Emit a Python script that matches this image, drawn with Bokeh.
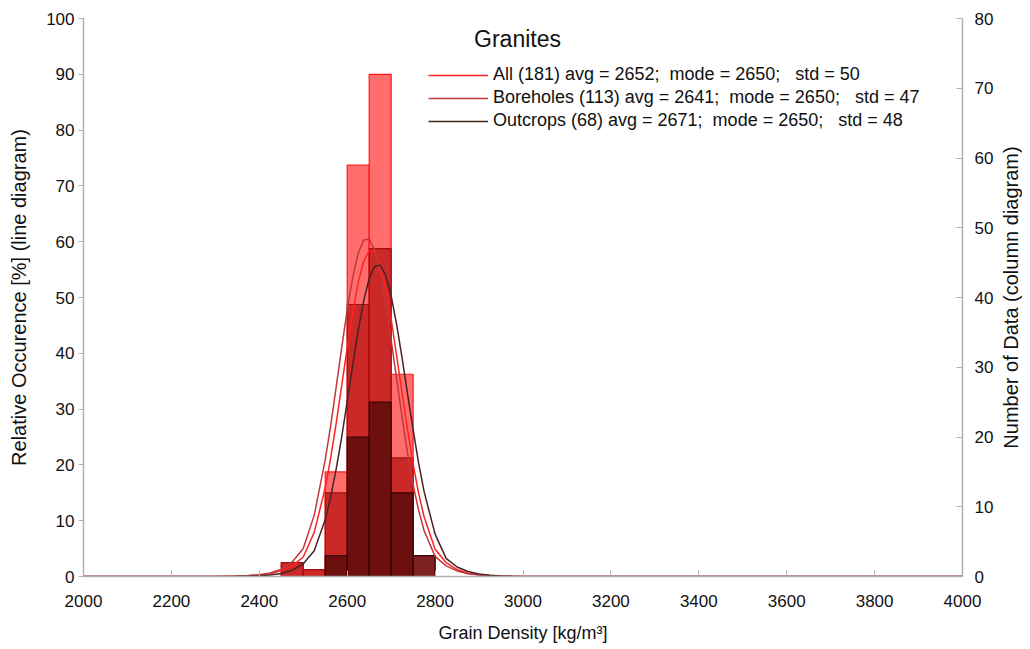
from bokeh.plotting import figure
from bokeh.layouts import row
from bokeh.models import Range1d, LinearAxis, FixedTicker, Legend, LegendItem, Label
from bokeh.embed import file_html
from bokeh.resources import INLINE

# ---------------- data ----------------
bin_left = [2450, 2500, 2550, 2600, 2650, 2700, 2750]
bin_right = [2500, 2550, 2600, 2650, 2700, 2750, 2800]
count_all = [2, 1, 15, 59, 72, 29, 3]
count_bore = [2, 1, 12, 39, 47, 17, 0]
count_out = [0, 0, 3, 20, 25, 12, 3]

curve_x = [2000, 2300, 2325, 2350, 2375, 2400, 2425, 2450, 2475, 2500, 2525,
           2550, 2562.5, 2575, 2587.5, 2600, 2612.5, 2625, 2637.5, 2650,
           2662.5, 2675, 2687.5, 2700, 2712.5, 2725, 2737.5, 2750, 2762.5, 2775,
           2800, 2825, 2850, 2875, 2900, 2925, 2950, 2975, 3000, 4000]
pct_all = [0, 0.02, 0.04, 0.06, 0.13, 0.27, 0.5, 1.05, 1.9, 3.5, 7.9,
           15.9, 21.3, 27.5, 34.2, 41.0, 47.3, 52.7, 56.5, 58.4,
           58.2, 55.9, 51.7, 46.1, 39.6, 32.8, 26.2, 20.2, 14.9, 10.7,
           4.9, 2.5, 1.25, 0.6, 0.3, 0.16, 0.08, 0.04, 0.02, 0]
pct_bore = [0, 0.02, 0.04, 0.08, 0.16, 0.3, 0.62, 1.3, 2.6, 5.0, 11.0,
            20.9, 27.1, 34.0, 41.0, 47.8, 53.6, 57.9, 60.3, 60.5,
            58.5, 54.6, 49.0, 42.4, 35.4, 28.5, 22.0, 16.4, 11.9, 8.2,
            3.6, 1.9, 1.0, 0.5, 0.27, 0.13, 0.06, 0.04, 0.02, 0]
pct_out = [0, 0.01, 0.02, 0.04, 0.07, 0.14, 0.28, 0.55, 1.1, 2.3, 4.6,
           10.2, 14.3, 19.3, 25.0, 31.4, 37.9, 44.1, 49.4, 53.4,
           55.6, 55.8, 54.0, 50.3, 45.2, 39.1, 32.6, 26.3, 20.3, 15.2,
           7.6, 3.25, 1.7, 0.9, 0.45, 0.22, 0.11, 0.05, 0.02, 0]

labels = ["All (181) avg = 2652;  mode = 2650;   std = 50",
          "Boreholes (113) avg = 2641;  mode = 2650;   std = 47",
          "Outcrops (68) avg = 2671;  mode = 2650;   std = 48"]
title_text = "Granites"
x_title = "Grain Density [kg/m³]"
left_title = "Relative Occurence [%] (line diagram)"
right_title = "Number of Data (column diagram)"
x_ticks = list(range(2000, 4001, 200))
left_ticks = list(range(0, 101, 10))
right_ticks = list(range(0, 81, 10))

FONT = "Liberation Sans"
TXT = "#111111"

p = figure(width=996, height=645, output_backend="svg", toolbar_location=None,
           x_range=Range1d(2000, 4000), y_range=Range1d(0, 100),
           min_border_left=83, min_border_right=34, min_border_top=18,
           min_border_bottom=67)
p.extra_y_ranges = {"count": Range1d(0, 80)}
p.outline_line_color = None
p.xgrid.visible = False
p.ygrid.visible = False
p.background_fill_color = "white"

# bars (counts, right axis)
p.quad(left=bin_left, right=bin_right, bottom=0, top=count_all, y_range_name="count",
       fill_color="#ff4848", fill_alpha=0.8, line_color="#ff1a1a", line_width=1.2)
p.quad(left=bin_left, right=bin_right, bottom=0, top=count_bore, y_range_name="count",
       fill_color="#c21c1c", fill_alpha=0.85, line_color="#a01010", line_width=1.2)
p.quad(left=bin_left, right=bin_right, bottom=0, top=count_out, y_range_name="count",
       fill_color="#4a0505", fill_alpha=0.72, line_color="#3a0505", line_width=1.2)

# curves (percent, left axis)
r_all = p.line(curve_x, pct_all, line_color="#ff2222", line_width=1.5)
r_bore = p.line(curve_x, pct_bore, line_color="#c0383c", line_width=1.5)
r_out = p.line(curve_x, pct_out, line_color="#4a2222", line_width=1.5)

def style_axis(ax):
    ax.axis_line_color = "#b0b0b0"
    ax.axis_line_width = 1.5
    ax.major_tick_line_color = "#b0b0b0"
    ax.minor_tick_line_color = None
    ax.major_label_text_font = FONT
    ax.major_label_text_font_size = "17px"
    ax.major_label_text_color = TXT
    ax.axis_label_text_font = FONT
    ax.axis_label_text_font_size = "18px"
    ax.axis_label_text_font_style = "normal"
    ax.axis_label_text_color = TXT

xa = p.xaxis[0]
style_axis(xa)
xa.ticker = FixedTicker(ticks=x_ticks)
xa.major_tick_in = 6
xa.major_tick_out = 0
xa.major_label_standoff = 18
xa.axis_label = x_title
xa.axis_label_standoff = 13

ya = p.yaxis[0]
style_axis(ya)
ya.ticker = FixedTicker(ticks=left_ticks)
ya.major_tick_in = 0
ya.major_tick_out = 5
ya.major_label_standoff = 4
ya.axis_label = left_title
ya.axis_label_text_font_size = "20px"
ya.axis_label_standoff = 13

ra = LinearAxis(y_range_name="count", ticker=FixedTicker(ticks=right_ticks))
style_axis(ra)
ra.major_tick_in = 6
ra.major_tick_out = 0
ra.major_label_standoff = 12
p.add_layout(ra, "right")

legend = Legend(items=[LegendItem(label=labels[0], renderers=[r_all]),
                       LegendItem(label=labels[1], renderers=[r_bore]),
                       LegendItem(label=labels[2], renderers=[r_out])],
                location=(345, 445), orientation="vertical")
legend.background_fill_alpha = 0
legend.border_line_color = None
legend.label_text_font = FONT
legend.label_text_font_size = "18px"
legend.label_text_color = TXT
legend.glyph_width = 60
legend.glyph_height = 20
legend.label_height = 21
legend.spacing = 2
legend.padding = 4
legend.margin = 0
legend.label_standoff = 5
p.add_layout(legend, "center")

p.add_layout(Label(x=434, y=538, x_units="screen", y_units="screen", text=title_text,
                   text_font=FONT, text_font_size="23px", text_color=TXT,
                   text_align="center", text_baseline="middle"))

# narrow companion strip carrying the right-hand axis title (reads bottom-to-top)
p2 = figure(width=26, height=645, output_backend="svg", toolbar_location=None,
            x_range=Range1d(0, 1), y_range=Range1d(0, 1),
            min_border_left=24, min_border_right=0, min_border_top=18,
            min_border_bottom=67)
p2.outline_line_color = None
p2.xgrid.visible = False
p2.ygrid.visible = False
p2.xaxis.visible = False
a2 = p2.yaxis[0]
a2.ticker = FixedTicker(ticks=[])
a2.axis_line_color = None
a2.major_tick_line_color = None
a2.minor_tick_line_color = None
a2.major_label_text_color = None
a2.axis_label = right_title
a2.axis_label_text_font = FONT
a2.axis_label_text_font_size = "20px"
a2.axis_label_text_font_style = "normal"
a2.axis_label_text_color = TXT
a2.axis_label_standoff = 0

layout = row(p, p2, spacing=0)
open("out.html", "w").write(file_html(layout, INLINE))
